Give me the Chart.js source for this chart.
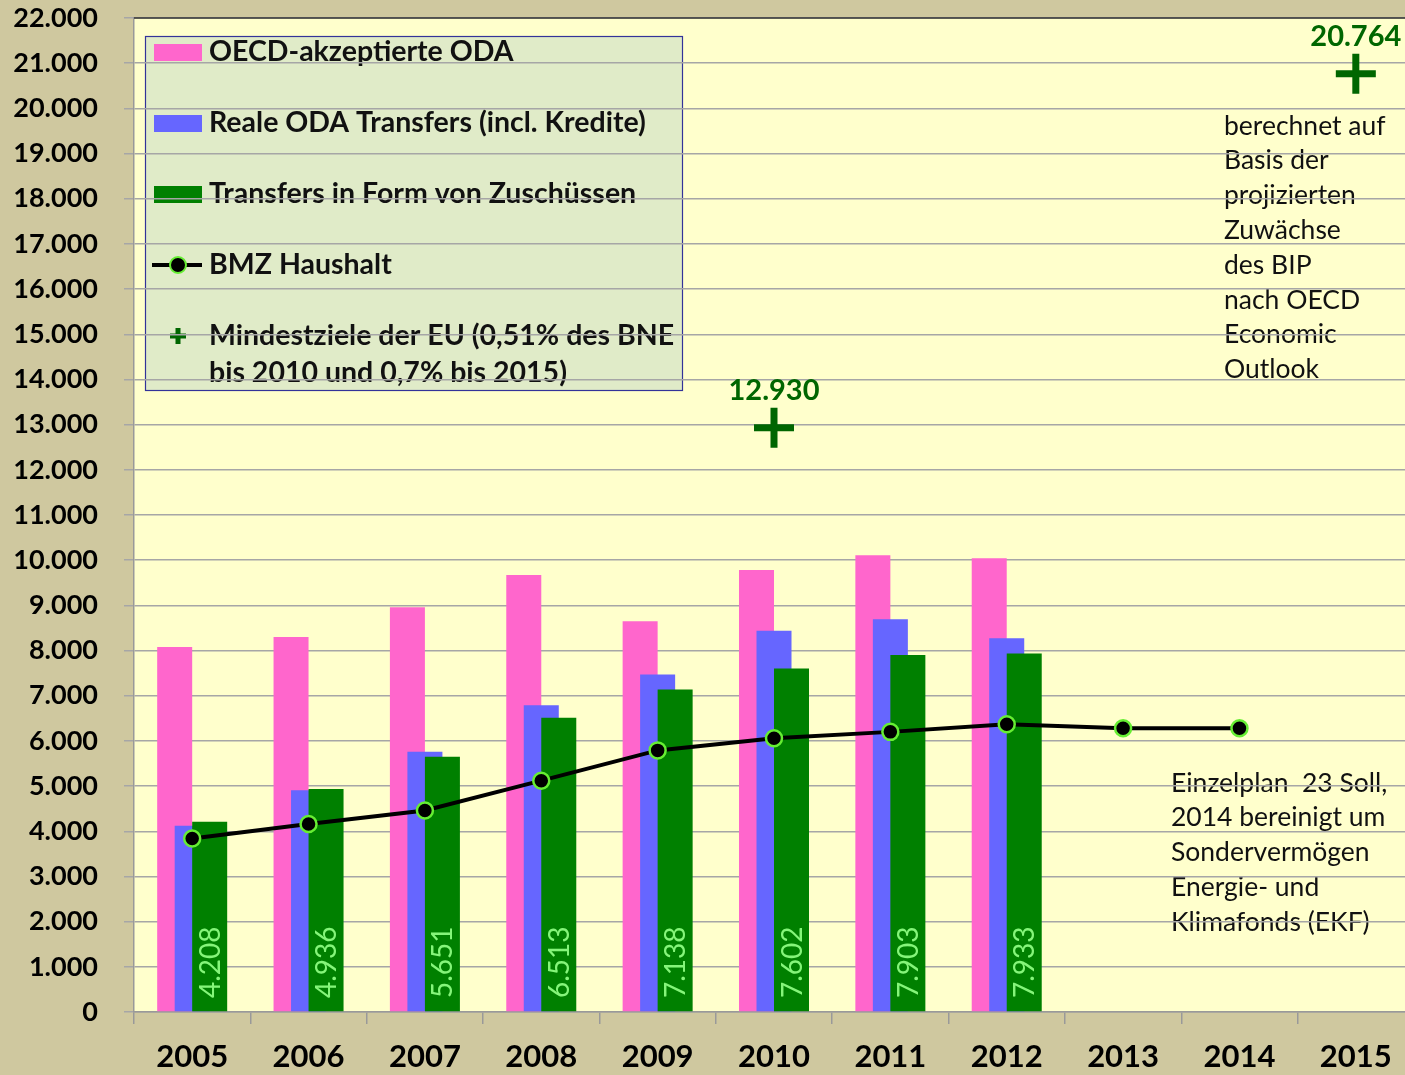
<!DOCTYPE html>
<html>
<head>
<meta charset="utf-8">
<script src="https://cdn.jsdelivr.net/npm/chart.js@4.4.1/dist/chart.umd.min.js"></script>
<style>
  html, body { margin: 0; padding: 0; overflow: hidden; background: #cfc89f; }
  #wrap { width: 1415px; height: 1075px; }
</style>
</head>
<body>
<div id="wrap"><canvas id="c" width="1415" height="1075"></canvas></div>
<script>
// ---- data ----
const years = ['2005', '2006', '2007', '2008', '2009', '2010', '2011', '2012', '2013', '2014', '2015'];
const oecdODA = [8080, 8300, 8960, 9670, 8650, 9780, 10110, 10040];
const realeODA = [4120, 4910, 5760, 6790, 7470, 8440, 8690, 8270];
const zuschuesse = [4208, 4936, 5651, 6513, 7138, 7602, 7903, 7933];
const bmzHaushalt = [3840, 4160, 4460, 5120, 5790, 6060, 6200, 6370, 6280, 6280, null];
const euZiele = [null, null, null, null, null, 12930, null, null, null, null, 20764];
const yMin = 0, yMax = 22000, yStep = 1000;

const seriesLabels = [
  'OECD-akzeptierte ODA',
  'Reale ODA Transfers (incl. Kredite)',
  'Transfers in Form von Zuschüssen',
  'BMZ Haushalt',
  'Mindestziele der EU (0,51% des BNE bis 2010 und 0,7% bis 2015)'
];
const noteTop = ['berechnet auf', 'Basis der', 'projizierten', 'Zuwächse', 'des BIP', 'nach OECD', 'Economic', 'Outlook'];
const noteBottom = ['Einzelplan  23 Soll,', '2014 bereinigt um', 'Sondervermögen', 'Energie- und', 'Klimafonds (EKF)'];

// ---- styles ----
const FONT = 'Lato';
const C_PINK = '#ff66cc', C_BLUE = '#6666ff', C_GREEN = '#008000', C_CROSS = '#006600';
const C_BG = '#cfc89f', C_PLOT = '#ffffcc', C_LEGEND = '#e0ebc8';

const fmt = v => String(v).replace(/\B(?=(\d{3})+(?!\d))/g, '.');

const bgPlugin = {
  id: 'bgAndBoxes',
  beforeDraw(chart) {
    const ctx = chart.ctx, a = chart.chartArea;
    ctx.save();
    ctx.fillStyle = C_BG;
    ctx.fillRect(0, 0, chart.width, chart.height);
    ctx.fillStyle = C_PLOT;
    ctx.fillRect(a.left, a.top, a.right - a.left, a.bottom - a.top);

    // legend box
    const lx = 145, ly = 36, lw = 537, lh = 354;
    ctx.fillStyle = C_LEGEND;
    ctx.fillRect(lx, ly, lw, lh);
    ctx.strokeStyle = '#333399';
    ctx.lineWidth = 1.2;
    ctx.strokeRect(lx + 0.5, ly + 0.5, lw, lh);

    const ds = chart.data.datasets;
    const rowY = [52, 123, 194, 265, 336];
    ctx.font = 'bold 28.5px ' + FONT;
    ctx.textBaseline = 'middle';
    ctx.textAlign = 'left';
    const textX = 209;
    for (let i = 0; i < 3; i++) {
      ctx.fillStyle = ds[i].backgroundColor;
      ctx.fillRect(154, rowY[i] - 8, 48, 17);
      ctx.fillStyle = '#111';
      ctx.fillText(ds[i].label, textX, rowY[i]);
    }
    // line sample
    ctx.strokeStyle = '#000';
    ctx.lineWidth = 4;
    ctx.beginPath(); ctx.moveTo(152, rowY[3]); ctx.lineTo(202, rowY[3]); ctx.stroke();
    ctx.beginPath(); ctx.arc(178, rowY[3], 8, 0, Math.PI * 2);
    ctx.fillStyle = '#000'; ctx.fill();
    ctx.lineWidth = 2; ctx.strokeStyle = '#66ee33'; ctx.stroke();
    ctx.fillStyle = '#111';
    ctx.fillText(ds[3].label, textX, rowY[3]);
    // cross sample
    ctx.strokeStyle = C_CROSS; ctx.lineWidth = 5;
    ctx.beginPath();
    ctx.moveTo(170, rowY[4]); ctx.lineTo(186, rowY[4]);
    ctx.moveTo(178, rowY[4] - 8); ctx.lineTo(178, rowY[4] + 8);
    ctx.stroke();
    const crossLines = ds[4].label.split(/ (?=bis 2010)/);
    ctx.fillStyle = '#111';
    crossLines.forEach((t, k) => ctx.fillText(t, textX, rowY[4] + k * 37));

    // notes
    ctx.font = '26.5px ' + FONT;
    ctx.fillStyle = '#111';
    noteTop.forEach((t, k) => ctx.fillText(t, 1224, 126 + k * 34.8));
    noteBottom.forEach((t, k) => ctx.fillText(t, 1171, 783 + k * 34.8));
    ctx.restore();
  }
};

const orderPlugin = {
  id: 'drawOrder',
  beforeDatasetsDraw(chart) {
    const ctx = chart.ctx, a = chart.chartArea;
    // top border of plot area
    ctx.save();
    ctx.strokeStyle = '#333';
    ctx.lineWidth = 1.5;
    ctx.beginPath(); ctx.moveTo(a.left, a.top); ctx.lineTo(chart.width, a.top); ctx.stroke();
    ctx.restore();
    [0, 1, 2, 3, 4].forEach(i => {
      const meta = chart.getDatasetMeta(i);
      if (meta.hidden) return;
      ctx.save();
      meta.controller.draw();
      ctx.restore();
    });
    return false;
  },
  afterDraw(chart) {
    const ctx = chart.ctx, a = chart.chartArea;
    ctx.save();
    // values inside green bars
    const gm = chart.getDatasetMeta(2);
    ctx.font = '28px ' + FONT;
    ctx.fillStyle = '#85f57a';
    ctx.textAlign = 'left';
    ctx.textBaseline = 'middle';
    gm.data.forEach((bar, i) => {
      const v = chart.data.datasets[2].data[i];
      if (v == null) return;
      ctx.save();
      ctx.translate(bar.x, a.bottom - 14);
      ctx.rotate(-Math.PI / 2);
      ctx.fillText(fmt(v), 0, 1);
      ctx.restore();
    });
    // labels above EU target crosses
    const cm = chart.getDatasetMeta(4);
    ctx.font = 'bold 29px ' + FONT;
    ctx.fillStyle = C_CROSS;
    ctx.textAlign = 'center';
    ctx.textBaseline = 'alphabetic';
    cm.data.forEach((pt, i) => {
      const v = chart.data.datasets[4].data[i];
      if (v == null) return;
      ctx.fillText(fmt(v), pt.x, pt.y - 28);
    });
    ctx.restore();
  }
};

new Chart(document.getElementById('c'), {
  data: {
    labels: years,
    datasets: [
      { type: 'bar', label: seriesLabels[0], data: oecdODA, backgroundColor: C_PINK,
        categoryPercentage: 0.4512, barPercentage: 2 },
      { type: 'bar', label: seriesLabels[1], data: realeODA, backgroundColor: C_BLUE,
        categoryPercentage: 0.4512, barPercentage: 2 },
      { type: 'bar', label: seriesLabels[2], data: zuschuesse, backgroundColor: C_GREEN,
        categoryPercentage: 0.4512, barPercentage: 2 },
      { type: 'line', label: seriesLabels[3], data: bmzHaushalt, borderColor: '#000', borderWidth: 4,
        pointRadius: 8, pointBackgroundColor: '#000', pointBorderColor: '#66ee33', pointBorderWidth: 2.5,
        tension: 0, spanGaps: false },
      { type: 'line', label: seriesLabels[4], data: euZiele, showLine: false, pointStyle: 'cross',
        pointRadius: 20, pointBorderWidth: 7, pointBorderColor: C_CROSS, pointBackgroundColor: C_CROSS }
    ]
  },
  options: {
    responsive: false,
    animation: false,
    devicePixelRatio: 1,
    layout: { autoPadding: false, padding: { top: 18, right: 1, left: 0, bottom: 0 } },
    plugins: { legend: { display: false }, tooltip: { enabled: false } },
    scales: {
      x: {
        type: 'category',
        offset: true,
        grid: { display: true, drawOnChartArea: false, offset: true, tickLength: 12, color: '#999', lineWidth: 1.5 },
        border: { display: true, color: '#999', width: 1.5 },
        ticks: { color: '#000', font: { family: FONT, size: 31, weight: 'bold' }, padding: 14,
                 autoSkip: false, maxRotation: 0 },
        afterFit(s) { s.height = 63; s.paddingLeft = 0; s.paddingRight = 0; }
      },
      y: {
        min: yMin, max: yMax,
        grid: { color: '#a6a6a6', lineWidth: 1.5, tickLength: 10 },
        border: { display: true, color: '#999', width: 1.5 },
        ticks: { stepSize: yStep, color: '#000', font: { family: FONT, size: 27, weight: 'bold' },
                 padding: 26, autoSkip: false, callback: v => fmt(v) },
        afterFit(s) { s.width = 134; s.paddingTop = 0; s.paddingBottom = 0; }
      }
    }
  },
  plugins: [bgPlugin, orderPlugin]
});
</script>
</body>
</html>
